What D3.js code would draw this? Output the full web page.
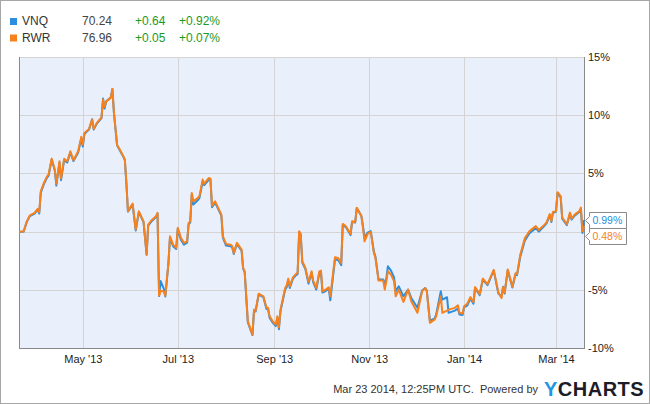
<!DOCTYPE html>
<html><head><meta charset="utf-8">
<script src="https://cdn.jsdelivr.net/npm/d3@7"></script>
<style>body{margin:0;background:#fff}svg{display:block;font-family:"Liberation Sans",Arial,sans-serif}</style>
</head><body><svg id="c" width="650" height="404"></svg>
<script>
// ---- data ----
const startDate = new Date(2013, 2, 21);
const endDate = new Date(2014, 2, 19);
const dayOffsets = [0,3,5,7,10,12,13,14,16,18,19,21,23,24,26,27,29,31,33,35,38,40,41,42,45,47,48,50,53,54,55,56,59,60,61,63,65,67,68,69,70,73,75,77,80,82,83,85,88,89,90,91,93,94,96,97,99,101,102,104,106,108,109,110,111,112,115,116,118,119,122,123,124,126,128,130,131,133,136,137,138,140,143,144,145,147,150,151,152,154,157,159,160,161,163,165,166,167,168,171,172,173,174,176,178,179,180,181,182,184,186,188,189,191,193,194,195,197,199,200,203,205,207,208,210,213,214,216,217,220,221,222,224,226,228,229,231,234,235,236,237,239,241,242,244,247,250,252,256,259,261,262,264,267,268,271,272,275,276,280,282,283,285,286,288,290,292,293,296,298,301,305,308,310,311,312,314,317,319,320,322,325,328,332,334,338,339,341,342,343,345,346,348,349,352,354,355,357,360,361,362,363];
const rwr = [-0.03,0.03,0.88,1.40,1.61,1.95,1.66,3.46,4.18,4.75,4.90,6.27,5.33,4.12,6.04,4.55,6.25,6.04,6.90,6.13,6.90,8.14,7.47,8.48,8.82,9.62,8.82,9.34,9.82,11.34,10.71,11.19,11.49,12.26,10.20,7.47,6.98,6.47,6.19,4.18,1.74,2.41,0.17,1.74,0.88,-1.98,0.60,0.95,1.31,1.61,-5.50,-5.07,-5.15,-5.50,-2.69,-0.40,-1.12,-1.40,0.32,-0.54,-0.97,-0.83,0.75,0.88,3.32,2.60,2.90,3.09,4.47,4.12,4.61,4.55,2.23,2.60,2.04,1.46,-0.40,-1.06,-1.12,-1.26,-1.83,-0.97,-1.55,-3.12,-3.41,-7.71,-8.85,-6.70,-6.79,-5.33,-5.56,-6.55,-6.55,-7.28,-7.71,-7.99,-7.28,-8.22,-6.70,-4.84,-4.61,-4.04,-4.70,-3.93,-3.63,-3.55,0.03,-0.20,-2.55,-3.12,-4.32,-3.41,-4.21,-4.84,-3.41,-3.35,-5.13,-4.98,-4.79,-5.56,-2.21,-2.26,-2.69,0.66,0.46,-0.20,0.88,0.83,2.04,1.31,0.32,-0.83,-0.20,-0.03,-1.83,-2.26,-4.21,-4.21,-4.98,-4.27,-3.41,-3.69,-4.27,-5.56,-4.98,-6.04,-4.98,-5.99,-6.98,-5.13,-4.84,-5.13,-7.84,-7.56,-7.28,-5.56,-6.98,-6.79,-6.70,-6.55,-6.33,-6.98,-7.04,-6.42,-6.19,-5.63,-6.06,-4.77,-5.37,-4.04,-4.51,-3.29,-5.24,-5.71,-4.77,-5.24,-3.26,-4.75,-3.57,-3.65,-2.02,-0.56,0.04,0.47,0.13,0.64,0.82,1.50,0.90,1.68,1.76,3.39,3.05,1.20,0.64,1.63,1.12,1.46,1.76,2.06,0.03,0.48];
const vnq = [-0.03,0.00,0.82,1.33,1.55,1.89,1.55,3.35,4.08,4.64,4.81,6.19,5.24,3.95,5.93,4.42,6.14,5.93,6.79,6.06,6.79,7.99,7.30,8.38,8.76,9.66,8.76,9.28,9.75,11.43,10.57,11.17,11.55,12.26,10.20,7.43,6.92,6.44,6.14,4.12,1.72,2.32,0.09,1.68,0.82,-1.98,0.52,0.86,1.25,1.55,-5.54,-4.25,-4.90,-5.58,-2.75,-0.52,-1.25,-1.50,0.21,-0.69,-1.12,-0.95,0.64,0.77,3.18,2.32,2.71,2.92,4.30,3.99,4.47,4.47,2.10,2.49,1.93,1.37,-0.52,-1.20,-1.25,-1.37,-1.93,-1.07,-1.63,-3.18,-3.48,-7.77,-8.89,-6.79,-6.87,-5.41,-5.63,-6.66,-6.66,-7.39,-7.82,-8.12,-7.39,-8.38,-6.83,-4.98,-4.77,-4.21,-4.85,-4.04,-3.74,-3.65,-0.04,-0.26,-2.66,-3.22,-4.47,-3.52,-4.34,-4.98,-3.52,-3.48,-5.24,-5.11,-4.90,-5.90,-2.41,-2.41,-2.88,0.56,0.39,-0.30,0.82,0.77,2.02,1.33,0.47,-0.52,-0.09,0.04,-1.72,-2.15,-4.12,-4.12,-4.55,-4.04,-2.98,-3.35,-3.95,-5.13,-4.70,-5.56,-4.98,-5.70,-6.55,-5.07,-4.84,-5.07,-7.65,-7.47,-7.13,-5.13,-5.84,-5.64,-6.98,-6.79,-6.61,-7.13,-7.17,-6.49,-6.36,-5.76,-6.19,-4.85,-5.46,-4.12,-4.60,-3.35,-5.33,-5.58,-4.73,-5.33,-3.31,-4.81,-3.65,-3.74,-2.19,-0.77,-0.13,0.30,0.00,0.56,0.73,1.42,0.82,1.59,1.72,3.31,2.96,1.12,0.56,1.55,1.03,1.37,1.68,1.98,-0.11,0.99];
const yTicks = [15, 10, 5, 0, -5, -10];
const legendRows = [
  {name: "VNQ", price: "70.24", chg: "+0.64", pct: "+0.92%"},
  {name: "RWR", price: "76.96", chg: "+0.05", pct: "+0.07%"}
];
const footerText = "Mar 23 2014, 12:25PM UTC.  Powered by";

// ---- layout ----
const W = 650, H = 404;
const L = 19, R = 584, T = 57, B = 348;
const blue = "#2a8de0", orange = "#f7821d";
const svg = d3.select("#c");

svg.append("rect").attr("x", 0.5).attr("y", 0.5).attr("width", W - 1).attr("height", H - 1)
  .attr("fill", "#fff").attr("stroke", "#a6a6a6");

const x = d3.scaleTime().domain([startDate, endDate]).range([L, R]);
const y = d3.scaleLinear().domain([-10, 15]).range([B, T]);

svg.append("rect").attr("x", L).attr("y", T).attr("width", R - L).attr("height", B - T).attr("fill", "#eaf0fb");

// gridlines
const xTicks = x.ticks(d3.timeMonth.every(2));
svg.append("g").selectAll("line").data(xTicks).join("line")
  .attr("x1", d => Math.round(x(d)) + 0.5).attr("x2", d => Math.round(x(d)) + 0.5)
  .attr("y1", T).attr("y2", B).attr("stroke", "#d4d4d4");
svg.append("g").selectAll("line").data(yTicks.filter(v => v > -10)).join("line")
  .attr("x1", L).attr("x2", R)
  .attr("y1", d => Math.round(y(d)) + 0.5).attr("y2", d => Math.round(y(d)) + 0.5)
  .attr("stroke", "#d4d4d4");

// borders
svg.append("line").attr("x1", L + 0.5).attr("x2", L + 0.5).attr("y1", T).attr("y2", B + 1).attr("stroke", "#8a8a8a");
svg.append("line").attr("x1", R + 0.5).attr("x2", R + 0.5).attr("y1", T).attr("y2", B + 1).attr("stroke", "#8a8a8a");
svg.append("line").attr("x1", L).attr("x2", R + 1).attr("y1", B + 0.5).attr("y2", B + 0.5).attr("stroke", "#8a8a8a");

// end label boxes positions (they cover axis labels they overlap)
const vLast = vnq[vnq.length - 1], rLast = rwr[rwr.length - 1];
const bh = 16;
const bTop = y(vLast) - bh / 2;
const oTop = Math.max(y(rLast) - bh / 2, bTop + bh);
const coverTop = bTop - 6, coverBottom = oTop + bh + 6;

// axes text
const yAxis = d3.axisRight(y).tickValues(yTicks.filter(v => y(v) < coverTop || y(v) > coverBottom))
  .tickFormat(d => d + "%").tickSize(0).tickPadding(4);
const gy = svg.append("g").attr("transform", `translate(${R},0)`).call(yAxis);
gy.select(".domain").remove();
gy.selectAll("text").attr("font-size", 11).attr("fill", "#222").attr("font-family", "Liberation Sans, Arial, sans-serif");

const xAxis = d3.axisBottom(x).tickValues(xTicks).tickFormat(d3.timeFormat("%b '%y")).tickSize(0).tickPadding(7);
const gx = svg.append("g").attr("transform", `translate(0,${B})`).call(xAxis);
gx.select(".domain").remove();
gx.selectAll("text").attr("font-size", 11).attr("fill", "#222").attr("font-family", "Liberation Sans, Arial, sans-serif");

// lines
svg.append("clipPath").attr("id", "clip").append("rect").attr("x", L).attr("y", T - 2).attr("width", R - L + 2).attr("height", B - T + 2);
const dates = dayOffsets.map(d => d3.timeDay.offset(startDate, d));
const line = d3.line().x((d, i) => x(dates[i])).y(d => y(d));
[[vnq, blue], [rwr, orange]].forEach(([s, c]) => {
  svg.append("path").attr("d", line(s)).attr("fill", "none").attr("stroke", c)
    .attr("stroke-width", 2).attr("stroke-linejoin", "round").attr("clip-path", "url(#clip)");
});

// end labels
[[bTop, vLast, blue], [oTop, rLast, orange]].forEach(([top, v, c]) => {
  const x0 = R + 5.5, x1 = x0 + 37, t = Math.round(top) + 0.5, b = t + bh, m = t + bh / 2;
  svg.append("path").attr("d", `M${x0},${t}H${x1}V${b}H${x0}V${m + 4}L${x0 - 4},${m}L${x0},${m - 4}Z`)
    .attr("fill", "#fff").attr("stroke", "#8a8a8a");
  svg.append("text").attr("x", x0 + 3).attr("y", m + 3.5).attr("font-size", 10.5).attr("fill", c)
    .text(d3.format(".2f")(v) + "%");
});

// legend
const lg = svg.append("g");
legendRows.forEach((r, i) => {
  const by = 25 + i * 16.5;
  lg.append("rect").attr("x", 10).attr("y", by - 7).attr("width", 7).attr("height", 7).attr("fill", i === 0 ? blue : orange);
  lg.append("text").attr("x", 22).attr("y", by).attr("font-size", 12).attr("fill", "#333").text(r.name);
  lg.append("text").attr("x", 82).attr("y", by).attr("font-size", 12).attr("fill", "#444").text(r.price);
  lg.append("text").attr("x", 135).attr("y", by).attr("font-size", 12).attr("fill", "#1d9a1d").text(r.chg);
  lg.append("text").attr("x", 179).attr("y", by).attr("font-size", 12).attr("fill", "#1d9a1d").text(r.pct);
});

// footer
svg.append("text").attr("x", 538).attr("y", 393).attr("text-anchor", "end").attr("font-size", 11).attr("fill", "#333")
  .attr("xml:space", "preserve").style("white-space", "pre").text(footerText);
const logo = svg.append("text").attr("x", 544).attr("y", 396).attr("font-size", 20).attr("font-weight", "bold").attr("letter-spacing", 0.5);
logo.append("tspan").attr("fill", "#2196e3").text("Y");
logo.append("tspan").attr("fill", "#1c1c28").text("CHARTS");
</script></body></html>
